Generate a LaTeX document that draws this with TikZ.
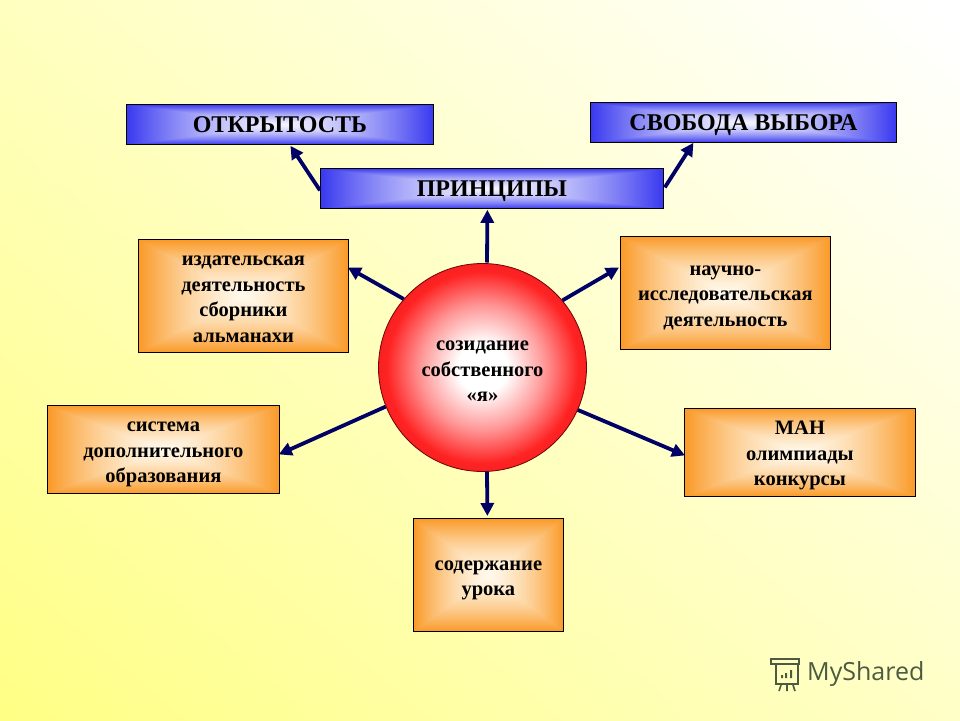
\documentclass[tikz,border=0pt]{standalone}
\usepackage{fontspec}
\setmainfont{Liberation Serif}
\newfontfamily\logofont{Open Sans}
\usetikzlibrary{calc,arrows.meta}
\pgfdeclarefunctionalshading{orangeboxb}{\pgfpoint{-50bp}{-50bp}}{\pgfpoint{50bp}{50bp}}{}{
 abs exch abs 2 copy lt {exch} if pop 25 div
 dup dup mul add 2 div
 dup -0.02 mul 1 add exch
 dup -0.38 mul 0.98 add exch
 -0.78 mul 0.93 add
}
\pgfdeclarefunctionalshading{bluebox}{\pgfpoint{-50bp}{-50bp}}{\pgfpoint{50bp}{50bp}}{}{
 abs exch abs 2 copy lt {exch} if pop 25 div
 dup dup mul add 2 div
 dup -0.74 mul 0.96 add exch
 dup -0.74 mul 0.96 add exch
 -0.06 mul 1 add
}
\pgfdeclarefunctionalshading{paper}{\pgfpoint{-50bp}{-50bp}}{\pgfpoint{50bp}{50bp}}{}{
 25 add 50 div 0.23 mul exch 25 add 50 div 0.26 mul add 0.52 add
 1 1 3 -1 roll
}
\definecolor{ballred}{RGB}{255,35,35}
\definecolor{ballrim}{RGB}{220,25,30}
\definecolor{ballpink}{RGB}{255,150,150}
\pgfdeclareradialshading{redball}{\pgfpoint{0bp}{0bp}}{
 color(0bp)=(white);
 color(6bp)=(white);
 color(15bp)=(ballpink);
 color(23bp)=(ballred);
 color(32bp)=(ballrim);
 color(50bp)=(ballrim)}
\definecolor{arrowblue}{RGB}{0,0,102}
\definecolor{logogreen}{RGB}{75,90,65}
\newcommand\cardtext[2][-8pt]{\raisebox{#1}[0pt][0pt]{\begin{tabular}{@{}c@{}}#2\end{tabular}}}
\tikzset{
 x=1pt,y=-1pt,
 card/.style={draw=black,line width=0.8pt,anchor=north west,inner sep=0pt,
   font=\fontsize{20.5}{25.5}\selectfont\bfseries,text=black},
 orangecard/.style={card,shading=orangeboxb},
 bluecard/.style={card,shading=bluebox,font=\fontsize{24}{26}\selectfont\bfseries},
 link/.style={draw=arrowblue,line width=3.8pt,-{Triangle[length=13pt,width=13pt]}},
}
\begin{document}
\begin{tikzpicture}
\useasboundingbox (0,0) rectangle (960,720);
\shade[shading=paper] (0,0) rectangle (960,720);
\node[bluecard,minimum width=307,minimum height=40] (open) at (126,104) {\cardtext[-9.5pt]{ОТКРЫТОСТЬ}};
\node[bluecard,minimum width=306,minimum height=40] (free) at (590,102) {\cardtext[-9.5pt]{СВОБОДА ВЫБОРА}};
\node[bluecard,minimum width=343,minimum height=40] (princ) at (320,168) {\cardtext[-9.5pt]{ПРИНЦИПЫ}};
\node[orangecard,minimum width=210,minimum height=113] (pub) at (138,239) {\cardtext{издательская\\деятельность\\сборники\\альманахи}};
\node[orangecard,minimum width=210,minimum height=113] (sci) at (620,236) {\cardtext{научно-\\исследовательская\\деятельность}};
\node[orangecard,minimum width=232,minimum height=88] (sys) at (47,405) {\cardtext{система\\дополнительного\\образования}};
\node[orangecard,minimum width=231,minimum height=88] (man) at (684,408) {\cardtext{МАН\\олимпиады\\конкурсы}};
\node[orangecard,minimum width=150,minimum height=113] (les) at (413,518) {\cardtext{содержание\\урока}};
\node[circle,draw=black!55!red,line width=0.8pt,shading=redball,minimum size=208,inner sep=0pt,
   font=\fontsize{20.5}{25.5}\selectfont\bfseries] (core) at (482.5,367.5) {\cardtext[-9pt]{созидание\\собственного\\«я»}};
\draw[link] ($(princ.west)+(0,2)$) -- ($(open.south)+(10.5,1)$);
\draw[link] ($(princ.east)+(1,-1)$) -- ($(free.south)+(-50,0)$);
\draw[link] ($(core.center)+(4.5,-105)$) -- ($(princ.south)+(-4.5,1)$);
\draw[link] (core.139.2) -- ($(pub.east)+(-1,-28.5)$);
\draw[link] (core.40.8) -- ($(sci.west)+(-1,-25.5)$);
\draw[link] (core.202.8) -- ($(sys.east)+(-1,5)$);
\draw[link] (core.336.5) -- ($(man.west)+(1,3)$);
\draw[link] ($(core.center)+(4.5,104)$) -- ($(les.north)+(-1,-2)$);
% logo
\begin{scope}[draw=logogreen,line width=1.6pt]
\draw (771,664) -- (771,659) -- (799,659) -- (799,664) -- cycle;
\draw (776,664) rectangle (798,684);
\fill[logogreen] (781,675) rectangle (783,678) (785,673) rectangle (787,678) (790,670) rectangle (792,678);
\draw (781,685) -- (779,691) (787,685) -- (787,691) (793,685) -- (795,691);
\end{scope}
\node[font=\logofont\fontsize{25}{25}\selectfont,text=logogreen,anchor=west,inner sep=0pt] (logo) at (807,674) {MyShared};
\end{tikzpicture}
\end{document}
